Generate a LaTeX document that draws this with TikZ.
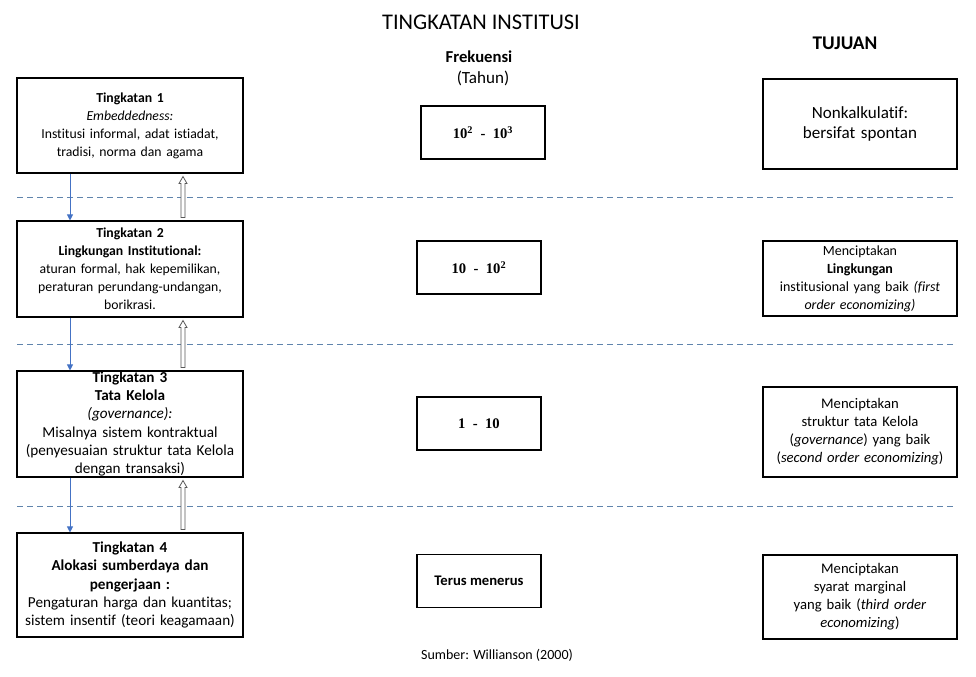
\documentclass[tikz,border=0pt]{standalone}
\usepackage{fontspec}
\setmainfont{Carlito}[Ligatures=NoCommon]
\newfontfamily\numfont{Liberation Serif}
\usetikzlibrary{arrows.meta,calc}
\definecolor{arrowblue}{RGB}{68,114,196}
\definecolor{dashblue}{RGB}{96,132,172}
\tikzset{
  levelbox/.style={draw,line width=0.8pt,align=center,inner sep=2pt,minimum width=169.5pt,text width=165pt,font=\fontsize{10.3}{13.5}\selectfont},
  freqbox/.style={draw,line width=0.8pt,align=center,minimum width=93pt,minimum height=39.75pt,font=\bfseries\fontsize{11}{13}\selectfont},
  goalbox/.style={draw,line width=0.8pt,align=center,inner sep=2pt,minimum width=145.5pt,text width=141pt,font=\fontsize{10.5}{13.5}\selectfont},
  downarrow/.style={arrowblue,line width=0.7pt,-{Triangle[length=4.5pt,width=4.5pt]}},
  hollowup/.style={draw=black!65,fill=white,line width=0.6pt,line join=miter},
  levelsep/.style={dashblue,line width=0.7pt,dash pattern=on 4.5pt off 3pt}
}
\begin{document}
\begin{tikzpicture}[x=0.75pt,y=-0.75pt]
    \useasboundingbox (0,0) rectangle (976,676);
    % headings
    \node (title) at (481,22) {\fontsize{16.8}{20}\selectfont TINGKATAN INSTITUSI};
    \node (freq) at (479,57) {\bfseries\fontsize{12.5}{15}\selectfont Frekuensi};
    \node (tahun) at (483,78) {\fontsize{12.8}{15}\selectfont (Tahun)};
    \node (tujuan) at (845,43) {\bfseries\fontsize{14.5}{17}\selectfont TUJUAN};
    % level separators
    \foreach \y in {197,344,506}
    \draw[levelsep] (17,\y) -- (957,\y);
    % levels
    \node[levelbox,minimum height=71.25pt] (l1) at (130,125.5) {\textbf{Tingkatan 1}\\ \textit{Embeddedness:}\\ Institusi informal, adat istiadat,\\ tradisi, norma dan agama};
    \node[levelbox,minimum height=72pt] (l2) at (130,269) {\textbf{Tingkatan 2}\\ \textbf{Lingkungan Institutional:}\\ aturan formal, hak kepemilikan,\\ peraturan perundang-undangan,\\ borikrasi.};
    \node[levelbox,inner ysep=0pt,minimum height=79.5pt,font=\fontsize{11.4}{13.7}\selectfont] (l3) at (130,424) {\textbf{Tingkatan 3}\\ \textbf{Tata Kelola}\\ \textit{(governance):}\\ Misalnya sistem kontraktual\\ (penyesuaian struktur tata Kelola\\ dengan transaksi)};
    \node[levelbox,minimum height=78pt,font=\fontsize{11.4}{13.8}\selectfont] (l4) at (130,585) {\textbf{Tingkatan 4}\\ \textbf{Alokasi sumberdaya dan}\\ \textbf{pengerjaan :}\\ Pengaturan harga dan kuantitas;\\ sistem insentif (teori keagamaan)};
    % frequency
    \node[freqbox] (f1) at (483,132.5) {\numfont\bfseries 10\textsuperscript{2}\ \ -\ \ 10\textsuperscript{3}};
    \node[freqbox] (f2) at (479,267.5) {\numfont\bfseries 10\ \ -\ \ 10\textsuperscript{2}};
    \node[freqbox] (f3) at (479,423.5) {\numfont\bfseries 1\ \ -\ \ 10};
    \node[freqbox] (f4) at (479,581) {Terus menerus};
    % goals
    \node[goalbox,minimum height=67.5pt,font=\fontsize{12.8}{15}\selectfont] (g1) at (860,124) {Nonkalkulatif:\\ bersifat spontan};
    \node[goalbox,minimum height=56.25pt] (g2) at (860,278.5) {Menciptakan\\ \textbf{Lingkungan}\\ institusional yang baik \textit{(first}\\ \textit{order economizing)}};
    \node[goalbox,minimum height=67.5pt,font=\fontsize{11}{13.5}\selectfont] (g3) at (860,432) {Menciptakan\\ struktur tata Kelola\\ (\textit{governance}) yang baik\\ (\textit{second order economizing})};
    \node[goalbox,minimum height=63pt,font=\fontsize{11}{13.5}\selectfont] (g4) at (860,597) {Menciptakan\\ syarat marginal\\ yang baik (\textit{third order}\\ \textit{economizing})};
    % arrows between levels
    \foreach \a/\b in {l1/l2, l2/l3, l3/l4}
    {
    \draw[downarrow] ($(\a.south)+(-60,0)$) -- ($(\b.north)+(-60,0)$);
    \draw[hollowup] ($(\b.north)+(51,-3)$) -- ($(\a.south)+(51,10)$) -- ($(\a.south)+(49,10)$)
      -- ($(\a.south)+(53,3)$) -- ($(\a.south)+(57,10)$) -- ($(\a.south)+(55,10)$)
      -- ($(\b.north)+(55,-3)$) -- cycle;
    }
    \node (source) at (497,655) {\fontsize{10.5}{12}\selectfont Sumber: Willianson (2000)};
\end{tikzpicture}
\end{document}
